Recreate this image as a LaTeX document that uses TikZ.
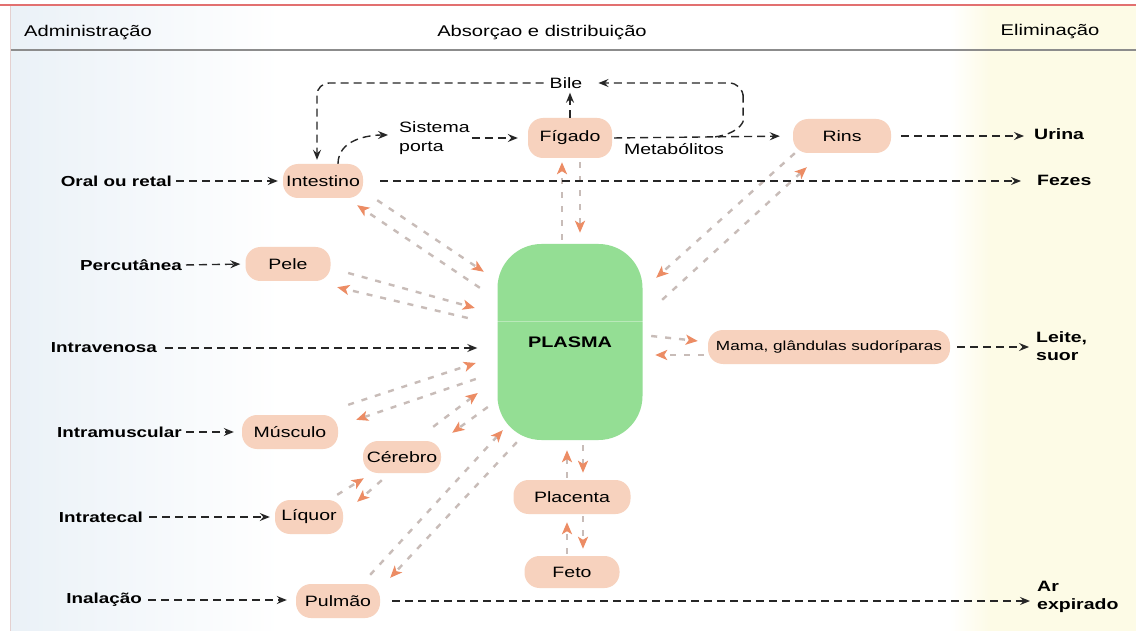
\documentclass[tikz,border=0pt]{standalone}
\usepackage{fontspec}
\setmainfont{Liberation Sans}[FakeStretch=1.3]
\usepackage{tikz}
\usetikzlibrary{arrows.meta, positioning, calc}
\tikzset{>={Stealth[length=10pt,width=8pt,inset=3.5pt]}}
\definecolor{organfill}{RGB}{247,210,190}
\definecolor{plasmagreen}{RGB}{148,222,148}
\definecolor{fluxline}{RGB}{200,188,184}
\definecolor{fluxtip}{RGB}{236,140,100}
\definecolor{bluetint}{RGB}{234,241,247}
\definecolor{creamtint}{RGB}{253,251,230}
\definecolor{headred}{RGB}{226,112,112}
\definecolor{headgrey}{RGB}{140,140,140}
\definecolor{edgepink}{RGB}{228,208,208}

\begin{document}
\begin{tikzpicture}[x=1pt, y=-1pt,
	organ/.style={fill=organfill, rounded corners=15pt, minimum height=34pt, inner sep=2pt, font=\fontsize{15}{18}\selectfont},
	adm/.style={anchor=east, inner sep=2pt, font=\bfseries\fontsize{14.5}{18}\selectfont},
	elim/.style={anchor=west, inner sep=2pt, align=left, font=\bfseries\fontsize{15}{18}\selectfont},
	txt/.style={inner sep=2pt, font=\fontsize{15}{19}\selectfont},
	hdr/.style={inner sep=2pt, font=\fontsize{15.5}{18}\selectfont},
	blk/.style={->, draw=black!85, line width=1.4pt, dash pattern=on 8pt off 5pt},
	flux/.style={-{Stealth[length=12pt,width=10pt,inset=3pt,color=fluxtip]}, draw=fluxline, line width=2.4pt, dash pattern=on 6pt off 8pt}]

\useasboundingbox (0,0) rectangle (1136,631);
\fill[white] (0,0) rectangle (1136,631);
\shade[left color=bluetint, right color=white] (10,6) rectangle (280,631);
\shade[left color=white, right color=creamtint] (950,6) rectangle (990,631);
\fill[creamtint] (990,6) rectangle (1136,631);
\draw[line width=2pt, headred] (0,5)--(1136,5);
\draw[line width=2pt, headgrey] (10,50)--(1136,50);
\draw[line width=1pt, edgepink] (10,6)--(10,631);

\node[hdr] (adm) at (88,33) {Administração};
\node[hdr] (absdist) at (542,33) {Absorçao e distribuição};
\node[hdr] (elimhead) at (1050,32) {Eliminação};

\node[fill=plasmagreen, rounded corners=44pt, minimum width=145pt, minimum height=196pt, font=\bfseries\fontsize{15.3}{18}\selectfont] (plasma) at (570,342) {PLASMA};
\draw[white, line width=1pt, opacity=.35] (plasma.west |- 0,322)--(plasma.east |- 0,322);

\node[organ, minimum width=80pt] (intestino) at (323,181) {Intestino};
\node[organ, minimum width=84pt, minimum height=40pt] (figado) at (570,138) {Fígado};
\node[organ, minimum width=98pt] (rins) at (842,136) {Rins};
\node[organ, minimum width=85pt] (pele) at (288,264) {Pele};
\node[organ, minimum width=242pt, font=\fontsize{13.2}{16}\selectfont] (mama) at (829,347) {Mama, glândulas sudoríparas};
\node[organ, minimum width=96pt] (musculo) at (290,432) {Músculo};
\node[organ, minimum width=78pt, minimum height=32pt] (cerebro) at (402,457) {Cérebro};
\node[organ, minimum width=68pt] (liquor) at (309,517) {Líquor};
\node[organ, minimum width=117pt] (placenta) at (572,497) {Placenta};
\node[organ, minimum width=95pt, minimum height=32pt] (feto) at (572,572) {Feto};
\node[organ, minimum width=84pt] (pulmao) at (338,601) {Pulmão};

\node[txt] (bile) at (566,83) {Bile};
\node[txt, anchor=west, align=left] (sistema) at (397,138) {Sistema\\porta};
\node[txt] (metab) at (674,149) {Metabólitos};

\node[adm] (oral) at (174,181) {Oral ou retal};
\node[adm] (perc) at (184,265) {Percutânea};
\node[adm] (intrav) at (159,348) {Intravenosa};
\node[adm] (intram) at (184,432) {Intramuscular};
\node[adm] (intrat) at (145,517) {Intratecal};
\node[adm] (inal) at (144,600) {Inalação};

\node[elim] (urina) at (1032,134) {Urina};
\node[elim] (fezes) at (1035,180) {Fezes};
\node[elim] (leite) at (1034,346) {Leite,\\suor};
\node[elim] (ar) at (1035,597) {Ar\\expirado};

\draw[flux] ([shift={(14,2)}]intestino.south east)--([shift={(-13.5,28)}]plasma.north west);
\draw[flux] ([shift={(-17.5,44)}]plasma.north west)--([shift={(-6,7)}]intestino.south east);
\draw[flux] ([shift={(17.5,9)}]pele.east)--([shift={(-22.5,-34)}]plasma.west);
\draw[flux] ([shift={(-29.5,-24)}]plasma.west)--([shift={(6.5,6)}]pele.south east);
\draw[flux] ([shift={(-8,-4)}]plasma.north)--([shift={(-8,4)}]figado.south);
\draw[flux] ([shift={(10,4)}]figado.south)--([shift={(10,-11)}]plasma.north);
\draw[flux] ([shift={(2,0)}]rins.south west)--([shift={(13.5,34)}]plasma.north east);
\draw[flux] ([shift={(19.5,56)}]plasma.north east)--([shift={(14,14)}]rins.south west);
\draw[flux] ([shift={(8.5,-6)}]plasma.east)--([shift={(-10,-6)}]mama.west);
\draw[flux] ([shift={(-4,8)}]mama.west)--([shift={(12.5,13)}]plasma.east);
\draw[flux] ([shift={(10,-10)}]musculo.north east)--([shift={(-21.5,21)}]plasma.west);
\draw[flux] ([shift={(-21.5,37)}]plasma.west)--([shift={(18,5)}]musculo.north east);
\draw[flux] ([shift={(-8,-14)}]cerebro.north east)--([shift={(-19.5,51)}]plasma.west);
\draw[flux] ([shift={(-9.5,65)}]plasma.west)--([shift={(11,-8)}]cerebro.north east);
\draw[flux] ([shift={(-10,-9)}]pulmao.north east)--([shift={(5.5,-10)}]plasma.south west);
\draw[flux] ([shift={(19.5,2)}]plasma.south west)--([shift={(10,-6)}]pulmao.north east);
\draw[flux] ([shift={(-6,-5)}]liquor.north east)--([shift={(1,5)}]cerebro.south west);
\draw[flux] ([shift={(19,7)}]cerebro.south west)--([shift={(14,2)}]liquor.north east);
\draw[flux] ([shift={(-5,-2)}]placenta.north)--([shift={(-3,10)}]plasma.south);
\draw[flux] ([shift={(13,5)}]plasma.south)--([shift={(11,-7)}]placenta.north);
\draw[flux] ([shift={(-5,-2)}]feto.north)--([shift={(-5,8)}]placenta.south);
\draw[flux] ([shift={(11,2)}]placenta.south)--([shift={(11,-7)}]feto.north);

\draw[blk, shorten <=2pt, shorten >=5pt] (oral.east)--(intestino.west);
\draw[blk, shorten <=2pt, shorten >=5pt] (perc.east)--(pele.west);
\draw[blk, shorten <=6pt, shorten >=20pt] (intrav.east)--(intrav.east -| plasma.west);
\draw[blk, shorten <=2pt, shorten >=8pt] (intram.east)--(intram.east -| musculo.west);
\draw[blk, shorten <=4pt, shorten >=5pt] (intrat.east)--(intrat.east -| liquor.west);
\draw[blk, shorten <=4pt, shorten >=9pt] (inal.east)--(inal.east -| pulmao.west);

\draw[blk, shorten <=17pt, shorten >=14pt] (intestino.east)--(intestino.east -| fezes.west);
\draw[blk, shorten <=10pt, shorten >=8pt] (rins.east)--(rins.east -| urina.west);
\draw[blk, shorten <=7pt, shorten >=5pt] (mama.east)--(mama.east -| leite.west);
\draw[blk, shorten <=12pt, shorten >=5pt] (pulmao.east)--(pulmao.east -| ar.west);

\draw[blk, shorten <=2pt, shorten >=13pt] (figado.east)--(rins.west);
\draw[blk, shorten >=2pt] (figado.north)--(figado.north |- bile.south);
\draw[blk, rounded corners=12pt, shorten <=4pt, shorten >=4pt] (bile.west) -| ([xshift=-6pt]intestino.north);
\draw[blk, rounded corners=14pt, shorten >=14pt] ($(figado.east)!.57!(rins.west)$) .. controls +(22,-3) and +(0,16) .. ++(28,-30) |- (bile.east);
\draw[blk] ([xshift=15pt]intestino.north) .. controls +(0,-24) and +(-20,0) .. ([shift={(-9,-3)}]sistema.west);
\draw[blk, shorten >=10pt] (sistema.east)--(sistema.east -| figado.west);

\end{tikzpicture}
\end{document}
